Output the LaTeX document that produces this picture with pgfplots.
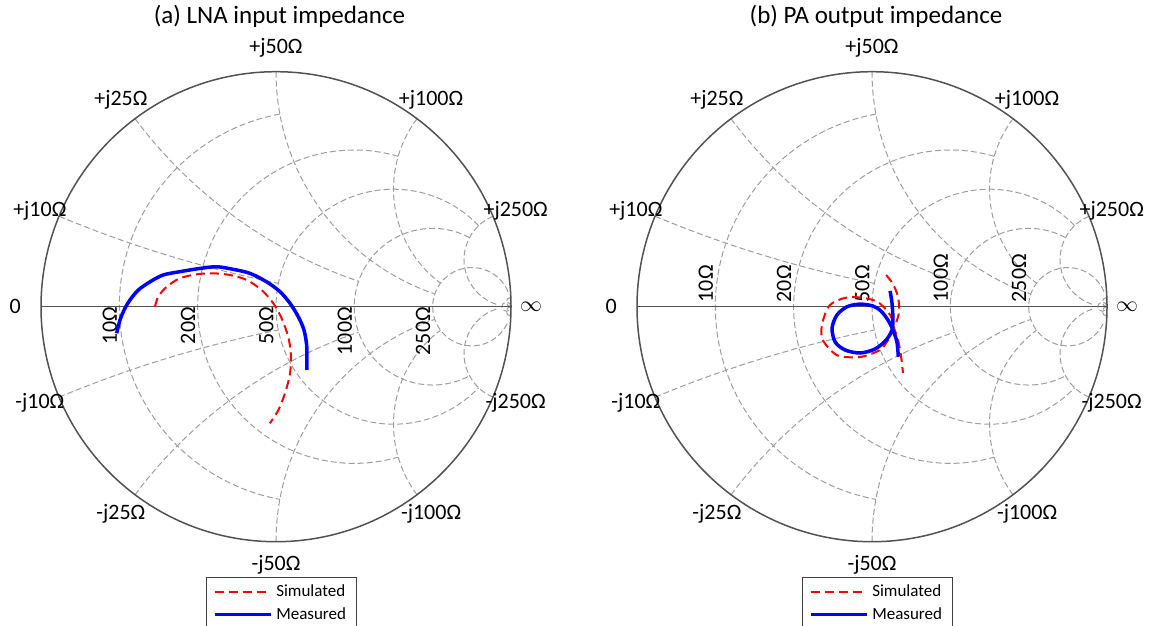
\documentclass[border=0pt]{standalone}
\usepackage{fontspec}
\setmainfont{Carlito}
\usepackage{pgfplots}
\pgfplotsset{compat=1.18}

% grid arc: centre x, centre y, start angle, end angle, radius (pt)
\newcommand\garc[5]{\draw[gridline] (axis cs:#1,#2) ++(#3:#5pt) arc[start angle=#3, end angle=#4, radius=#5pt];}
\newcommand\smithgrid{%
  % resistance circles (r = 0.2, 0.5, 1, 2, 5, 50)
  \garc{0.16667}{0}{100.39}{259.61}{97.917}
  \garc{0.33333}{0}{73.74}{286.26}{78.333}
  \garc{0.5}{0}{43.60}{316.40}{58.75}
  \garc{0.66667}{0}{61.93}{298.07}{39.167}
  \garc{0.83333}{0}{22.62}{337.38}{19.583}
  \garc{0.98039}{0}{0}{360}{2.304}
  % reactance arcs
  \garc{1}{5}{247.38}{258.58}{587.5}
  \garc{1}{-5}{112.62}{101.42}{587.5}
  \garc{1}{2}{216.87}{251.08}{235}
  \garc{1}{-2}{143.13}{108.92}{235}
  \garc{1}{1}{180}{251.08}{117.5}
  \garc{1}{-1}{180}{108.92}{117.5}
  \garc{1}{0.5}{143.13}{233.13}{58.75}
  \garc{1}{-0.5}{216.87}{126.87}{58.75}
  \garc{1}{0.2}{112.62}{251.67}{23.5}
  \garc{1}{-0.2}{247.38}{108.33}{23.5}
  \garc{1}{0.02}{92.3}{270}{2.35}
  \garc{1}{-0.02}{267.7}{90}{2.35}
  % outer circle and real axis
  \draw[black!68, line width=0.5pt] (axis cs:-1,0) -- (axis cs:1,0);
  \draw[black!68, line width=0.75pt] (axis cs:0,0) circle[radius=117.5pt];
  % reactance labels
  \begin{scope}[every node/.style={font=\fontsize{11}{13}\selectfont, inner sep=0pt}]
  \node at (axis cs:0,1.1) {+j50Ω};
  \node at (axis cs:-0.66,0.88) {+j25Ω};
  \node at (axis cs:0.66,0.88) {+j100Ω};
  \node at (axis cs:-1.005,0.41) {+j10Ω};
  \node at (axis cs:1.02,0.41) {+j250Ω};
  \node at (axis cs:0,-1.1) {-j50Ω};
  \node at (axis cs:-0.66,-0.88) {-j25Ω};
  \node at (axis cs:0.66,-0.88) {-j100Ω};
  \node at (axis cs:-1.005,-0.41) {-j10Ω};
  \node at (axis cs:1.02,-0.41) {-j250Ω};
  \node at (axis cs:-1.11,0) {0};
  \node at (axis cs:1.085,0) {$\infty$};
  \end{scope}
}
\newcommand\rlabels[1]{%
  \begin{scope}[every node/.style={font=\fontsize{11}{13}\selectfont, inner sep=1pt, rotate=90, anchor=#1, xshift=1pt}]
  \node at (axis cs:-0.66667,0) {10Ω};
  \node at (axis cs:-0.33333,0) {20Ω};
  \node at (axis cs:0,0) {50Ω};
  \node at (axis cs:0.33333,0) {100Ω};
  \node at (axis cs:0.66667,0) {250Ω};
  \end{scope}
}

\pgfplotsset{
  smithax/.style={
    x=117.5pt, y=117.5pt, xmin=-1, xmax=1, ymin=-1, ymax=1,
    hide axis, clip=false, anchor=origin,
    legend cell align=left,
    legend style={at={(0.5115,-0.075)}, anchor=north, draw=black!75, line width=0.5pt,
      font=\fontsize{8.5}{9.5}\selectfont, inner xsep=3pt, inner ysep=1.5pt, row sep=0pt},
    legend image code/.code={\draw[##1] (0pt,0pt) -- (28pt,0pt);},
  },
  simstyle/.style={red, line width=1pt, dash pattern=on 4.5pt off 2.5pt},
  messtyle/.style={blue, line width=1.75pt},
}

\begin{document}
\begin{tikzpicture}[gridline/.style={draw=black!38, line width=0.5pt, dash pattern=on 3pt off 1.5pt}]
\useasboundingbox (0,0) rectangle (578pt,313pt);

% ---------------- (a) LNA input impedance ----------------
\begin{axis}[smithax, at={(138pt,159.65pt)}]
\smithgrid
\rlabels{south east}
\node[font=\fontsize{12.5}{15}\selectfont] at (axis cs:0.015,1.237) {(a) LNA input impedance};
\addplot[simstyle, smooth] coordinates {
(-0.515,0.000) (-0.501,0.043) (-0.465,0.085) (-0.409,0.121) (-0.337,0.138)
(-0.267,0.142) (-0.196,0.135) (-0.125,0.114) (-0.061,0.071) (-0.011,0.014)
(0.024,-0.049) (0.052,-0.128) (0.063,-0.198) (0.060,-0.283) (0.038,-0.369)
(0.010,-0.440) (-0.026,-0.496)};
\addlegendentry{Simulated}
\addplot[messtyle, smooth] coordinates {
(-0.678,-0.113) (-0.664,-0.057) (-0.643,-0.007) (-0.621,0.029) (-0.586,0.071)
(-0.536,0.106) (-0.480,0.135) (-0.409,0.149) (-0.323,0.163) (-0.252,0.170)
(-0.182,0.159) (-0.111,0.142) (-0.040,0.106) (0.017,0.064) (0.060,0.014)
(0.095,-0.043) (0.119,-0.099) (0.131,-0.170) (0.131,-0.269)};
\addlegendentry{Measured}
\end{axis}

% ---------------- (b) PA output impedance ----------------
\begin{axis}[smithax, at={(436pt,159.65pt)}]
\smithgrid
\rlabels{south west}
\node[font=\fontsize{12.5}{15}\selectfont] at (axis cs:0.017,1.237) {(b) PA output impedance};
\addplot[simstyle, smooth] coordinates {
(0.060,0.135) (0.089,0.097) (0.111,0.041) (0.115,-0.023) (0.102,-0.069)
(0.089,-0.099) (0.068,-0.142) (0.034,-0.184) (-0.051,-0.214) (-0.149,-0.206)
(-0.209,-0.142) (-0.213,-0.078) (-0.179,0.007) (-0.094,0.041) (0.017,0.024)
(0.077,-0.035) (0.094,-0.091) (0.111,-0.142) (0.123,-0.206) (0.132,-0.282)};
\addlegendentry{Simulated}
\addplot[messtyle, smooth] coordinates {
(0.112,-0.213) (0.106,-0.150) (0.089,-0.099) (0.068,-0.057) (0.038,-0.018)
(0.004,0.003) (-0.051,0.011) (-0.106,0.000) (-0.149,-0.035) (-0.170,-0.091)
(-0.157,-0.150) (-0.115,-0.184) (-0.051,-0.197) (0.013,-0.180) (0.060,-0.142)
(0.085,-0.099) (0.089,-0.048) (0.085,0.016) (0.077,0.067)};
\addlegendentry{Measured}
\end{axis}
\end{tikzpicture}
\end{document}
